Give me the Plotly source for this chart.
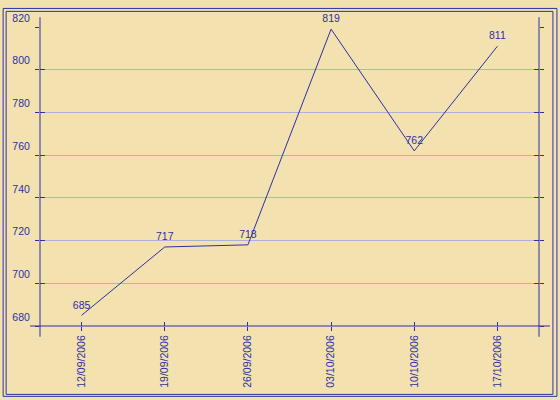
import plotly.graph_objects as go

# weekly values
dates = ["12/09/2006", "19/09/2006", "26/09/2006", "03/10/2006", "10/10/2006", "17/10/2006"]
values = [685, 717, 718, 819, 762, 811]
y_ticks = [680, 700, 720, 740, 760, 780, 800, 820]

BLUE = "#2e2ea8"
WOOD = "#f3e2b0"
GRID = "rgba(150,160,225,0.75)"
FONT = "Liberation Sans, Arial, sans-serif"

# plot area in pixels: x 38..539, y 20..326
L, R, T, B = 38, 21, 20, 74
W, H = 560 - L - R, 400 - T - B


def px(x):
    return (x - L) / W


def py(y):
    return (400 - B - y) / H


fig = go.Figure()
fig.add_trace(go.Scatter(
    x=dates, y=values, mode="lines+markers+text",
    text=[str(v) for v in values], textposition="top center",
    textfont=dict(color=BLUE, size=10.5, family=FONT),
    marker=dict(size=5, color="rgba(0,0,0,0)"),
    line=dict(color=BLUE, width=1), hoverinfo="x+y", showlegend=False,
    cliponaxis=False,
))
# invisible copy on overlay axes, only there to draw the inner half of the ticks
fig.add_trace(go.Scatter(
    x=dates, y=values, mode="lines", line=dict(width=0, color="rgba(0,0,0,0)"),
    xaxis="x2", yaxis="y2", hoverinfo="skip", showlegend=False,
))

fig.update_layout(
    width=560, height=400,
    margin=dict(l=L, r=R, t=T, b=B),
    paper_bgcolor=WOOD, plot_bgcolor=WOOD,
    font=dict(family=FONT, size=10.5, color=BLUE),
    xaxis=dict(
        type="category", range=[-0.5, 5.5], showgrid=False, zeroline=False,
        ticks="outside", ticklen=4, tickcolor=BLUE, tickangle=-90,
        tickfont=dict(color=BLUE, size=10.5), showline=False,
    ),
    yaxis=dict(
        range=[680, 820], tickvals=y_ticks, showgrid=True, gridcolor=GRID, gridwidth=1,
        zeroline=False, ticks="outside", ticklen=4, tickcolor=BLUE, mirror="ticks",
        tickfont=dict(color=BLUE, size=10.5), ticklabelshift=-9, ticklabelstandoff=3,
        showline=False,
    ),
    xaxis2=dict(
        type="category", range=[-0.5, 5.5], overlaying="x", showgrid=False, zeroline=False,
        ticks="inside", ticklen=4, tickcolor=BLUE, showticklabels=False, showline=False,
    ),
    yaxis2=dict(
        range=[680, 820], tickvals=y_ticks, overlaying="y", showgrid=False, zeroline=False,
        ticks="inside", ticklen=5, tickcolor=BLUE, mirror="ticks", showticklabels=False,
        showline=False,
    ),
)

line = dict(color=BLUE, width=1)
# axis lines that run a little past the plot area
fig.add_shape(type="line", xref="paper", yref="paper", x0=0, x1=0, y0=py(337), y1=py(10), line=line)
fig.add_shape(type="line", xref="paper", yref="paper", x0=1, x1=1, y0=py(337), y1=py(10), line=line)
fig.add_shape(type="line", xref="paper", yref="paper", x0=px(28), x1=px(550), y0=0, y1=0, line=line)
# double frame
fig.add_shape(type="rect", xref="paper", yref="paper", x0=px(1), x1=px(557), y0=py(398), y1=py(1), line=line)
fig.add_shape(type="rect", xref="paper", yref="paper", x0=px(4), x1=px(553), y0=py(396), y1=py(4), line=line)

fig.write_html("out.html", config={"displayModeBar": False},
               post_script="document.body.style.margin='0';")
